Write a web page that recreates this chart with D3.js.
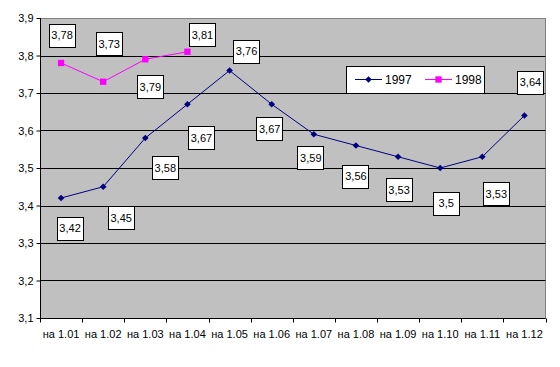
<!DOCTYPE html>
<html>
<head>
<meta charset="utf-8">
<script src="https://cdn.jsdelivr.net/npm/d3@7"></script>
<style>
  body { margin: 0; background: #fff; }
  svg { display: block; font-family: "Liberation Sans", Arial, sans-serif; }
</style>
</head>
<body>
<div id="chart"></div>
<script>
// ---- Data ----
const months = ["на 1.01", "на 1.02", "на 1.03", "на 1.04", "на 1.05", "на 1.06",
  "на 1.07", "на 1.08", "на 1.09", "на 1.10", "на 1.11", "на 1.12"];
const values1997 = [3.42, 3.45, 3.58, 3.67, 3.76, 3.67, 3.59, 3.56, 3.53, 3.5, 3.53, 3.64];
const values1998 = [3.78, 3.73, 3.79, 3.81];
const yTicks = [3.1, 3.2, 3.3, 3.4, 3.5, 3.6, 3.7, 3.8, 3.9];

// label box offsets from the point (moved by hand in the original)
const offsets1997 = [[9, 30.5], [18, 31], [20, 30], [14, 34], [17, -19], [-2, 25],
  [-3, 24], [0, 31], [1, 33.5], [6, 35.5], [14, 37], [6, -33]];
const offsets1998 = [[1, -27.5], [6, -38], [5, 28], [15, -17]];

const width = 560, height = 367;
const plot = { left: 40, top: 18, right: 545.5, bottom: 318 };

const svg = d3.select("#chart").append("svg")
  .attr("width", width)
  .attr("height", height);

const x = d3.scaleBand().domain(months).range([plot.left, plot.right]);
const y = d3.scaleLinear().domain([3.1, 3.9]).range([plot.bottom, plot.top]);
const fmt = v => String(v).replace(".", ",");

// plot background
svg.append("rect")
  .attr("x", plot.left).attr("y", plot.top)
  .attr("width", plot.right - plot.left).attr("height", plot.bottom - plot.top)
  .attr("fill", "#c0c0c0")
  .attr("stroke", "#808080")
  .attr("shape-rendering", "crispEdges");

// gridlines
svg.append("g")
  .selectAll("line")
  .data(yTicks.slice(1, -1))
  .enter().append("line")
  .attr("x1", plot.left).attr("x2", plot.right)
  .attr("y1", d => Math.round(y(d)) + 0.5).attr("y2", d => Math.round(y(d)) + 0.5)
  .attr("stroke", "#000");

// y axis
const yAxis = svg.append("g")
  .attr("transform", `translate(${plot.left + 0.5},0)`)
  .call(d3.axisLeft(y).tickValues(yTicks).tickSize(4).tickPadding(3).tickFormat(fmt));
yAxis.selectAll("text").attr("font-size", 11).attr("font-family", "Liberation Sans, Arial, sans-serif").attr("fill", "#000");
yAxis.selectAll("line, path").attr("stroke", "#000");
yAxis.select(".domain").attr("d", `M0,${plot.top}V${plot.bottom}`);

// x axis
const xAxis = svg.append("g")
  .attr("transform", `translate(0,${plot.bottom + 0.5})`)
  .call(d3.axisBottom(x).tickSize(0).tickPadding(12));
xAxis.select(".domain").attr("d", `M${plot.left},0H${plot.right}`).attr("stroke", "#000");
xAxis.selectAll("text").attr("font-size", 11).attr("font-family", "Liberation Sans, Arial, sans-serif").attr("fill", "#000");
const boundaries = months.map(m => x(m)).concat([plot.right]);
xAxis.selectAll(".bound")
  .data(boundaries)
  .enter().append("line")
  .attr("class", "bound")
  .attr("x1", d => Math.round(d) + 0.5).attr("x2", d => Math.round(d) + 0.5)
  .attr("y1", 0).attr("y2", 4)
  .attr("stroke", "#000");

const cx = (d, i) => x(months[i]) + x.bandwidth() / 2;
const line = d3.line().x((d, i) => cx(d, i)).y(d => y(d));

const series = [
  { name: "1997", values: values1997, offsets: offsets1997, color: "#000080", marker: "diamond" },
  { name: "1998", values: values1998, offsets: offsets1998, color: "#ff00ff", marker: "square" }
];

const markerPath = (type) => type === "diamond"
  ? d3.symbol().type(d3.symbolDiamond2).size(28)()
  : d3.symbol().type(d3.symbolSquare).size(40)();

series.forEach(s => {
  svg.append("path")
    .datum(s.values)
    .attr("fill", "none")
    .attr("stroke", s.color)
    .attr("stroke-width", 1)
    .attr("d", line);

  svg.append("g")
    .selectAll("path")
    .data(s.values)
    .enter().append("path")
    .attr("transform", (d, i) => `translate(${cx(d, i)},${y(d)})`)
    .attr("d", markerPath(s.marker))
    .attr("fill", s.color);
});

// data labels
series.forEach(s => {
  const g = svg.append("g")
    .selectAll("g")
    .data(s.values)
    .enter().append("g")
    .attr("transform", (d, i) => `translate(${cx(d, i) + s.offsets[i][0]},${y(d) + s.offsets[i][1]})`);
  g.append("rect")
    .attr("x", -13).attr("y", -11.5)
    .attr("width", 26).attr("height", 23)
    .attr("fill", "#fff").attr("stroke", "#000")
    .attr("shape-rendering", "crispEdges");
  g.append("text")
    .attr("text-anchor", "middle")
    .attr("dy", "0.36em")
    .attr("font-size", 11)
    .text(d => fmt(d));
});

// legend
const legend = svg.append("g").attr("transform", "translate(346,66)");
legend.append("rect")
  .attr("width", 138).attr("height", 27)
  .attr("fill", "#fff").attr("stroke", "#000")
  .attr("shape-rendering", "crispEdges");
const items = legend.selectAll(".item")
  .data(series)
  .enter().append("g")
  .attr("class", "item")
  .attr("transform", (d, i) => `translate(${9 + i * 70},13.5)`);
items.append("line")
  .attr("x1", 0).attr("x2", 27)
  .attr("stroke", d => d.color);
items.append("path")
  .attr("transform", "translate(13.5,0)")
  .attr("d", d => markerPath(d.marker))
  .attr("fill", d => d.color);
items.append("text")
  .attr("x", 30)
  .attr("dy", "0.36em")
  .attr("font-size", 12)
  .text(d => d.name);
</script>
</body>
</html>
